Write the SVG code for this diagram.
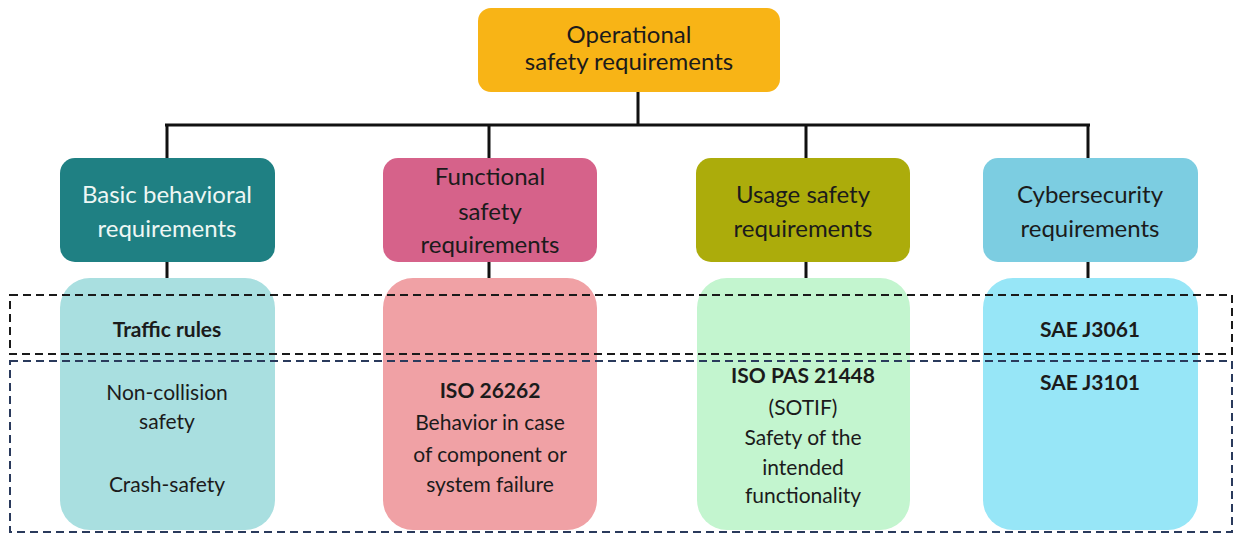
<svg xmlns="http://www.w3.org/2000/svg" width="1238" height="534" viewBox="0 0 1238 534">
<style>
text{font-family:Lato,"Liberation Sans",sans-serif;text-anchor:middle;fill:#1b1b1b}
.h{font-size:24px}
.b{font-size:21px}
.bold{font-weight:bold}
.w{fill:#eef7f4}
.ln{stroke:#111;stroke-width:3;fill:none}
.d1{fill:none;stroke:#1a1a1a;stroke-width:2;stroke-dasharray:8 5}
.d2{fill:none;stroke:#2a3a5c;stroke-width:2;stroke-dasharray:8 5}
</style>
<rect width="1238" height="534" fill="#fff"/>
<g id="connectors">
<path class="ln" d="M638 92V125M165 125H1090M167 124V158M489 124V158M806 124V158M1088 124V158"/>
<path class="ln" d="M167 262V278M489 262V278M806 262V278M1088 262V278"/>
</g>
<g id="top">
<rect x="478" y="8" width="302" height="84" rx="13" fill="#f8b416"/>
<text class="h" x="629" y="43">Operational</text>
<text class="h" x="629" y="70">safety requirements</text>
</g>
<g id="basic">
<rect x="60" y="158" width="215" height="104" rx="15" fill="#1f8083"/>
<text class="h w" x="167" y="203">Basic behavioral</text>
<text class="h w" x="167" y="237">requirements</text>
</g>
<g id="functional">
<rect x="383" y="158" width="214" height="104" rx="15" fill="#d6628a"/>
<text class="h" x="490" y="185">Functional</text>
<text class="h" x="490" y="220">safety</text>
<text class="h" x="490" y="253">requirements</text>
</g>
<g id="usage">
<rect x="696" y="158" width="214" height="104" rx="15" fill="#acac0b"/>
<text class="h" x="803" y="203">Usage safety</text>
<text class="h" x="803" y="237">requirements</text>
</g>
<g id="cyber">
<rect x="983" y="158" width="215" height="104" rx="15" fill="#7ccde1"/>
<text class="h" x="1090" y="203">Cybersecurity</text>
<text class="h" x="1090" y="237">requirements</text>
</g>
<g id="basic-detail">
<rect x="60" y="278" width="215" height="252" rx="30" fill="#a9dfe0"/>
<text class="b bold" x="167" y="337">Traffic rules</text>
<text class="b" x="167" y="400">Non-collision</text>
<text class="b" x="167" y="429">safety</text>
<text class="b" x="167" y="492">Crash-safety</text>
</g>
<g id="functional-detail">
<rect x="383" y="278" width="214" height="252" rx="30" fill="#f0a1a5"/>
<text class="b bold" x="490" y="398">ISO 26262</text>
<text class="b" x="490" y="430">Behavior in case</text>
<text class="b" x="490" y="462">of component or</text>
<text class="b" x="490" y="492">system failure</text>
</g>
<g id="usage-detail">
<rect x="697" y="278" width="213" height="252" rx="30" fill="#c3f5cf"/>
<text class="b bold" x="803" y="383">ISO PAS 21448</text>
<text class="b" x="803" y="415">(SOTIF)</text>
<text class="b" x="803" y="445">Safety of the</text>
<text class="b" x="803" y="475">intended</text>
<text class="b" x="803" y="503">functionality</text>
</g>
<g id="cyber-detail">
<rect x="983" y="278" width="215" height="252" rx="30" fill="#97e6f7"/>
<text class="b bold" x="1090" y="337">SAE J3061</text>
<text class="b bold" x="1090" y="390">SAE J3101</text>
</g>
<g id="groups">
<rect class="d1" x="10" y="295" width="1222" height="59"/>
<rect class="d2" x="10" y="361" width="1222" height="171"/>
</g>
</svg>
